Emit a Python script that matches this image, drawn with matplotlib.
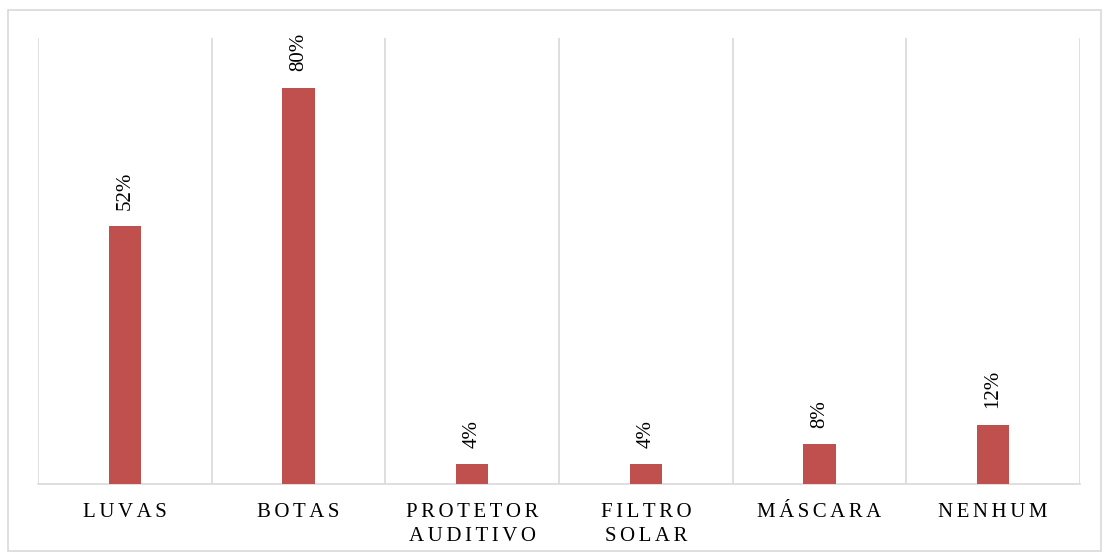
import matplotlib.pyplot as plt
from matplotlib.patches import Rectangle

categorias = ["LUVAS", "BOTAS", "PROTETOR\nAUDITIVO", "FILTRO\nSOLAR", "MÁSCARA", "NENHUM"]
valores = [52, 80, 4, 4, 8, 12]


def espacar(txt):
    # imita o espaçamento entre letras do Excel
    return "\n".join("\u2006".join(linha) for linha in txt.split("\n"))


plt.rcParams["font.family"] = ["Liberation Serif", "DejaVu Serif"]

fig = plt.figure(figsize=(11.05, 5.59), dpi=100)
ax = fig.add_axes([38 / 1105, 75 / 559, 1042 / 1105, 446 / 559])

x = list(range(len(categorias)))
barras = ax.bar(x, valores, width=0.185, color="#C0504D", zorder=3)
ax.bar_label(barras, labels=[f"{v}%" for v in valores], rotation=90,
             padding=12, fontsize=15, color="#000000")

ax.set_xlim(-0.5, len(categorias) - 0.5)
ax.set_ylim(0, 90)
ax.set_yticks([])
ax.set_xticks(x)
ax.set_xticklabels([espacar(c) for c in categorias], fontsize=15, linespacing=1.3)
ax.tick_params(axis="x", length=0, pad=14)
ax.set_xticks([i - 0.5 for i in range(len(categorias) + 1)], minor=True)
ax.tick_params(axis="x", which="minor", length=0)
ax.grid(axis="x", which="minor", color="#D9D9D9", linewidth=1.2)

for s in ["top", "right", "left"]:
    ax.spines[s].set_visible(False)
ax.spines["bottom"].set_color("#D9D9D9")
ax.spines["bottom"].set_linewidth(1.2)

fig.patches.append(Rectangle((8 / 1105, 8 / 559), 1093 / 1105, 541 / 559,
                             transform=fig.transFigure, fill=False,
                             edgecolor="#D9D9D9", linewidth=1.2))

fig.savefig("out.png", dpi=100)
